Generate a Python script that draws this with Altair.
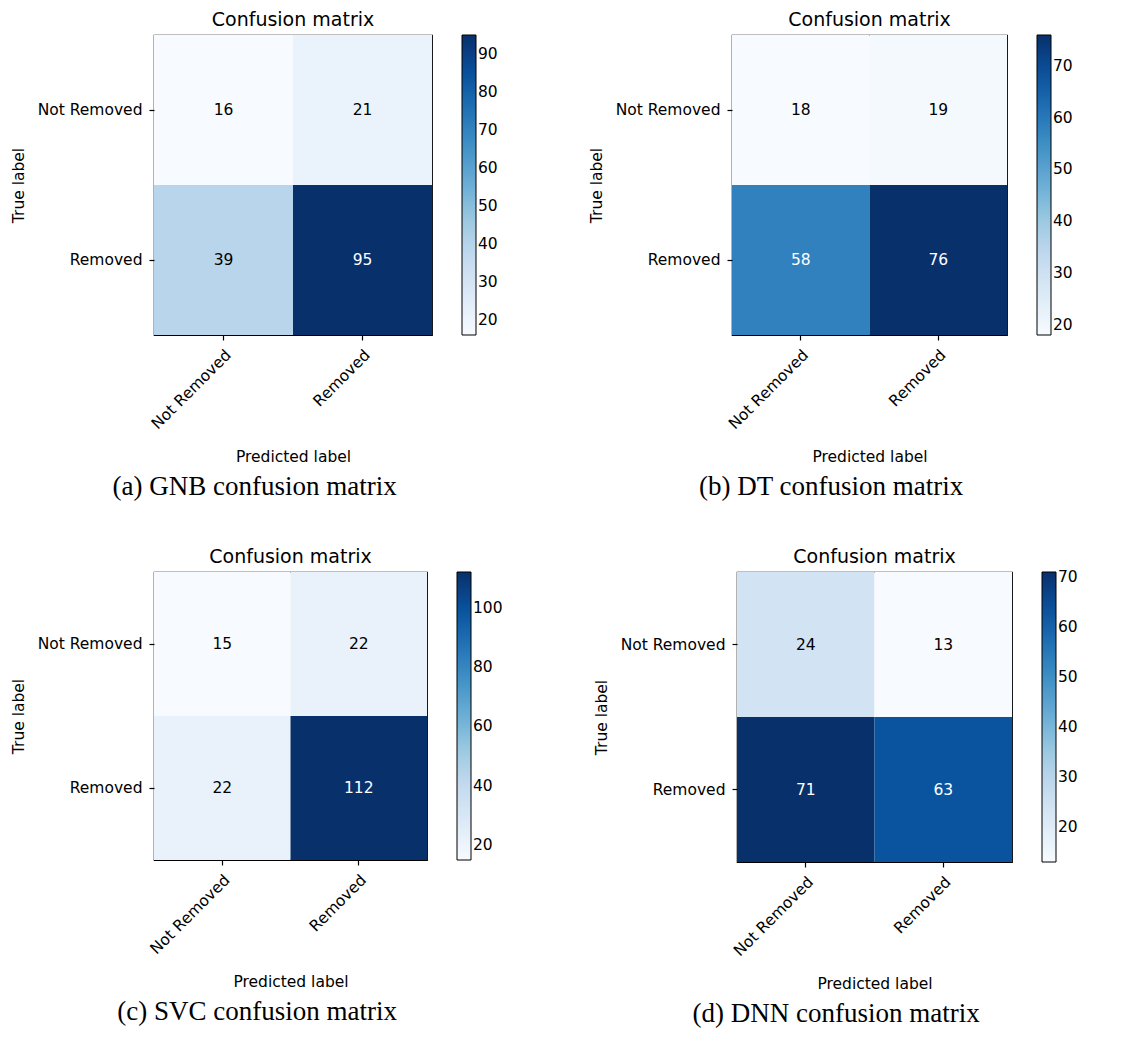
import altair as alt
import pandas as pd

labels = ["Not Removed", "Removed"]

gnb_values = [[16, 21], [39, 95]]
dt_values = [[18, 19], [58, 76]]
svc_values = [[15, 22], [22, 112]]
dnn_values = [[24, 13], [71, 63]]

gnb_ticks = [20, 30, 40, 50, 60, 70, 80, 90]
dt_ticks = [20, 30, 40, 50, 60, 70]
svc_ticks = [20, 40, 60, 80, 100]
dnn_ticks = [20, 30, 40, 50, 60, 70]

captions = ["(a) GNB confusion matrix", "(b) DT confusion matrix",
            "(c) SVC confusion matrix", "(d) DNN confusion matrix"]

# matplotlib "Blues" colormap stops
blues = ["#f7fbff", "#deebf7", "#c6dbef", "#9ecae1", "#6baed6",
         "#4292c6", "#2171b5", "#08519c", "#08306b"]

FONT = "DejaVu Sans"
FS = 15.5


def panel(vals, ticks, caption, width, height):
    rows = []
    for i, t in enumerate(labels):
        for j, p in enumerate(labels):
            rows.append({"true": t, "pred": p, "v": vals[i][j]})
    df = pd.DataFrame(rows)
    flat = [v for r in vals for v in r]
    mn, mx = min(flat), max(flat)
    thr = mx / 2.0
    n = len(blues)
    dom = [mn + (mx - mn) * k / (n - 1) for k in range(n)]

    base = alt.Chart(df).encode(
        x=alt.X("pred:N", sort=labels,
                scale=alt.Scale(paddingInner=0, paddingOuter=0),
                axis=alt.Axis(title="Predicted label", labelAngle=315,
                              labelAlign="right", labelBaseline="top",
                              titlePadding=17)),
        y=alt.Y("true:N", sort=labels,
                scale=alt.Scale(paddingInner=0, paddingOuter=0),
                axis=alt.Axis(title="True label", titlePadding=11)),
    )
    rect = base.mark_rect().encode(
        color=alt.Color("v:Q",
                        scale=alt.Scale(type="linear", domain=dom, range=blues),
                        legend=alt.Legend(title=None, values=ticks,
                                          gradientLength=height,
                                          gradientThickness=14,
                                          offset=30))
    )
    text = base.mark_text(font=FONT, fontSize=FS).encode(
        text="v:Q",
        color=alt.condition(f"datum.v > {thr}", alt.value("white"), alt.value("black")),
    )
    layer = alt.layer(rect, text).properties(
        width=width, height=height,
        title=alt.TitleParams("Confusion matrix", font=FONT, fontSize=19,
                              fontWeight="normal", color="black", offset=5),
    )
    return alt.vconcat(
        layer,
        title=alt.TitleParams(caption, orient="bottom", anchor="middle",
                              frame="bounds", font="Liberation Serif",
                              fontSize=27, fontWeight="normal", color="black",
                              offset=9),
    ).resolve_scale(color="independent").resolve_legend(color="independent")


pa = panel(gnb_values, gnb_ticks, captions[0], 278, 300)
pb = panel(dt_values, dt_ticks, captions[1], 275, 300)
pc = panel(svc_values, svc_ticks, captions[2], 273, 288)
pd_ = panel(dnn_values, dnn_ticks, captions[3], 275, 290)

row1 = alt.hconcat(pa, pb, spacing=89).resolve_scale(color="independent").resolve_legend(color="independent")
row2 = alt.hconcat(pc, pd_, spacing=89).resolve_scale(color="independent").resolve_legend(color="independent")

chart = alt.vconcat(row1, row2, spacing=46).resolve_scale(
    color="independent").resolve_legend(color="independent").properties(
    padding={"left": 2, "top": 2, "right": 2, "bottom": 2},
    background="white",
).configure_view(
    stroke="black", strokeWidth=1.2
).configure_axis(
    labelFont=FONT, labelFontSize=FS, labelColor="black",
    titleFont=FONT, titleFontSize=FS, titleFontWeight="normal", titleColor="black",
    tickColor="black", tickSize=5, tickWidth=1.2, domain=False, grid=False,
    labelPadding=7, titlePadding=10,
).configure_legend(
    labelFont=FONT, labelFontSize=FS, labelColor="black", labelOffset=9,
    gradientStrokeColor="black", gradientStrokeWidth=1,
)

chart.save("out.html", embed_options={"renderer": "svg", "actions": False})
